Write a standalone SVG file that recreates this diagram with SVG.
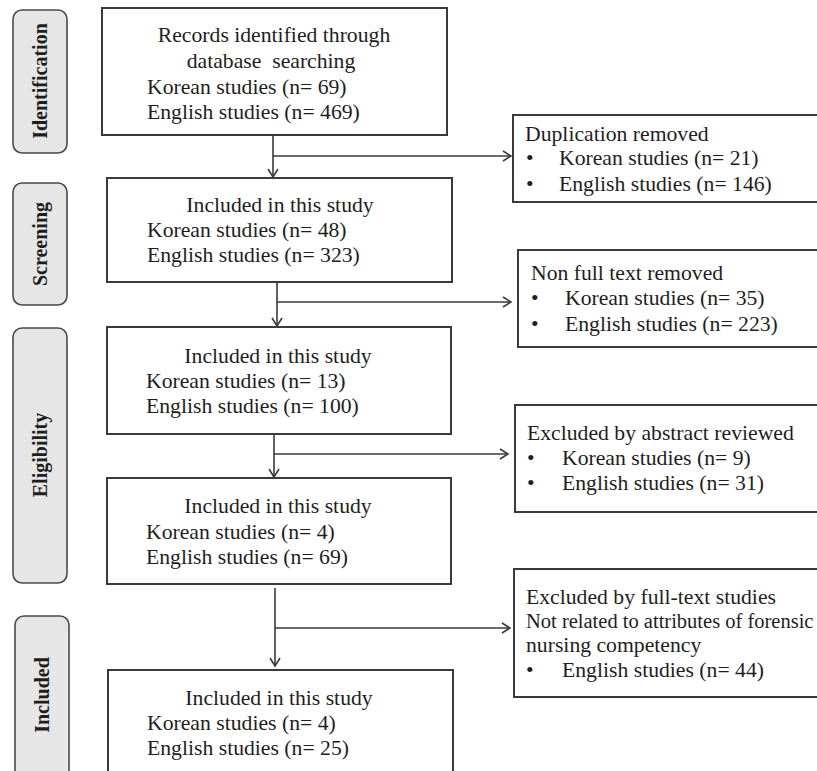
<svg xmlns="http://www.w3.org/2000/svg" width="817" height="771" viewBox="0 0 817 771">
<style>
.bg{fill:#ffffff}
.box{fill:#ffffff;stroke:#3a3a3a;stroke-width:2}
.stage{fill:#e6e6e6;stroke:#4a4a4a;stroke-width:1.6}
.t{font-family:"Liberation Serif","Times New Roman",serif;font-size:21.7px;fill:#1e1e1e}
.c{text-anchor:middle}
.lab{font-family:"Liberation Serif","Times New Roman",serif;font-size:20px;font-weight:bold;fill:#1e1e1e;text-anchor:middle}
.ln{fill:none;stroke:#3a3a3a;stroke-width:1.6}
</style>
<defs>
<marker id="arr" markerUnits="userSpaceOnUse" markerWidth="12" markerHeight="12" viewBox="-10 -6 12 12" refX="0" refY="0" orient="auto">
<path d="M-8,-5 L0,0 L-8,5" fill="none" stroke="#3a3a3a" stroke-width="1.6"/>
</marker>
</defs>
<rect class="bg" x="0" y="0" width="817" height="771"/>

<g id="stage-identification">
<rect class="stage" x="13" y="10" width="54" height="143" rx="9"/>
<text class="lab" transform="translate(47,81) rotate(-90)">Identification</text>
</g>
<g id="stage-screening">
<rect class="stage" x="13" y="183" width="54" height="122" rx="9"/>
<text class="lab" transform="translate(47,244) rotate(-90)">Screening</text>
</g>
<g id="stage-eligibility">
<rect class="stage" x="13" y="328" width="54" height="255" rx="9"/>
<text class="lab" transform="translate(47,455) rotate(-90)">Eligibility</text>
</g>
<g id="stage-included">
<rect class="stage" x="15" y="616" width="54" height="170" rx="9"/>
<text class="lab" transform="translate(49,695) rotate(-90)">Included</text>
</g>

<g id="records">
<rect class="box" x="102" y="8" width="345" height="127"/>
<text class="t c" x="274" y="42">Records identified through</text>
<text class="t c" x="271" y="68" style="white-space:pre">database  searching</text>
<text class="t" x="147" y="94">Korean studies (n= 69)</text>
<text class="t" x="147" y="119">English studies (n= 469)</text>
</g>

<g id="screened">
<rect class="box" x="107" y="178" width="345" height="104"/>
<text class="t c" x="280" y="212">Included in this study</text>
<text class="t" x="147" y="237">Korean studies (n= 48)</text>
<text class="t" x="147" y="262">English studies (n= 323)</text>
</g>

<g id="fulltext">
<rect class="box" x="107" y="327" width="344" height="107"/>
<text class="t c" x="278" y="363">Included in this study</text>
<text class="t" x="146" y="388">Korean studies (n= 13)</text>
<text class="t" x="146" y="413">English studies (n= 100)</text>
</g>

<g id="abstract">
<rect class="box" x="107" y="478" width="344" height="106"/>
<text class="t c" x="278" y="513">Included in this study</text>
<text class="t" x="146" y="539">Korean studies (n= 4)</text>
<text class="t" x="146" y="564">English studies (n= 69)</text>
</g>

<g id="final">
<rect class="box" x="108" y="670" width="345" height="120"/>
<text class="t c" x="279" y="705">Included in this study</text>
<text class="t" x="147" y="730">Korean studies (n= 4)</text>
<text class="t" x="147" y="755">English studies (n= 25)</text>
</g>

<g id="duplication">
<rect class="box" x="513" y="115" width="320" height="87"/>
<text class="t" x="525" y="141">Duplication removed</text>
<text class="t" x="526" y="165">•</text>
<text class="t" x="559" y="165">Korean studies (n= 21)</text>
<text class="t" x="526" y="191">•</text>
<text class="t" x="559" y="191">English studies (n= 146)</text>
</g>

<g id="nonfull">
<rect class="box" x="518" y="250" width="320" height="97"/>
<text class="t" x="531" y="280">Non full text removed</text>
<text class="t" x="531" y="305">•</text>
<text class="t" x="565" y="305">Korean studies (n= 35)</text>
<text class="t" x="531" y="331">•</text>
<text class="t" x="565" y="331">English studies (n= 223)</text>
</g>

<g id="excl-abstract">
<rect class="box" x="515" y="405" width="320" height="107"/>
<text class="t" x="527" y="440">Excluded by abstract reviewed</text>
<text class="t" x="527" y="465">•</text>
<text class="t" x="562" y="465">Korean studies (n= 9)</text>
<text class="t" x="527" y="490">•</text>
<text class="t" x="562" y="490">English studies (n= 31)</text>
</g>

<g id="excl-fulltext">
<rect class="box" x="514" y="569" width="320" height="128"/>
<text class="t" x="526" y="604">Excluded by full-text studies</text>
<text class="t" x="526" y="628" style="font-size:20.5px">Not related to attributes of forensic</text>
<text class="t" x="526" y="652">nursing competency</text>
<text class="t" x="526" y="677">•</text>
<text class="t" x="562" y="677">English studies (n= 44)</text>
</g>

<g id="connectors">
<line class="ln" x1="273" y1="135" x2="273" y2="177" marker-end="url(#arr)"/>
<line class="ln" x1="273" y1="156" x2="511" y2="156" marker-end="url(#arr)"/>
<line class="ln" x1="277" y1="282" x2="277" y2="326" marker-end="url(#arr)"/>
<line class="ln" x1="277" y1="302" x2="511" y2="302" marker-end="url(#arr)"/>
<line class="ln" x1="274" y1="434" x2="274" y2="477" marker-end="url(#arr)"/>
<line class="ln" x1="274" y1="454" x2="508" y2="454" marker-end="url(#arr)"/>
<line class="ln" x1="275" y1="588" x2="275" y2="666" marker-end="url(#arr)"/>
<line class="ln" x1="275" y1="628" x2="510" y2="628" marker-end="url(#arr)"/>
</g>
</svg>
